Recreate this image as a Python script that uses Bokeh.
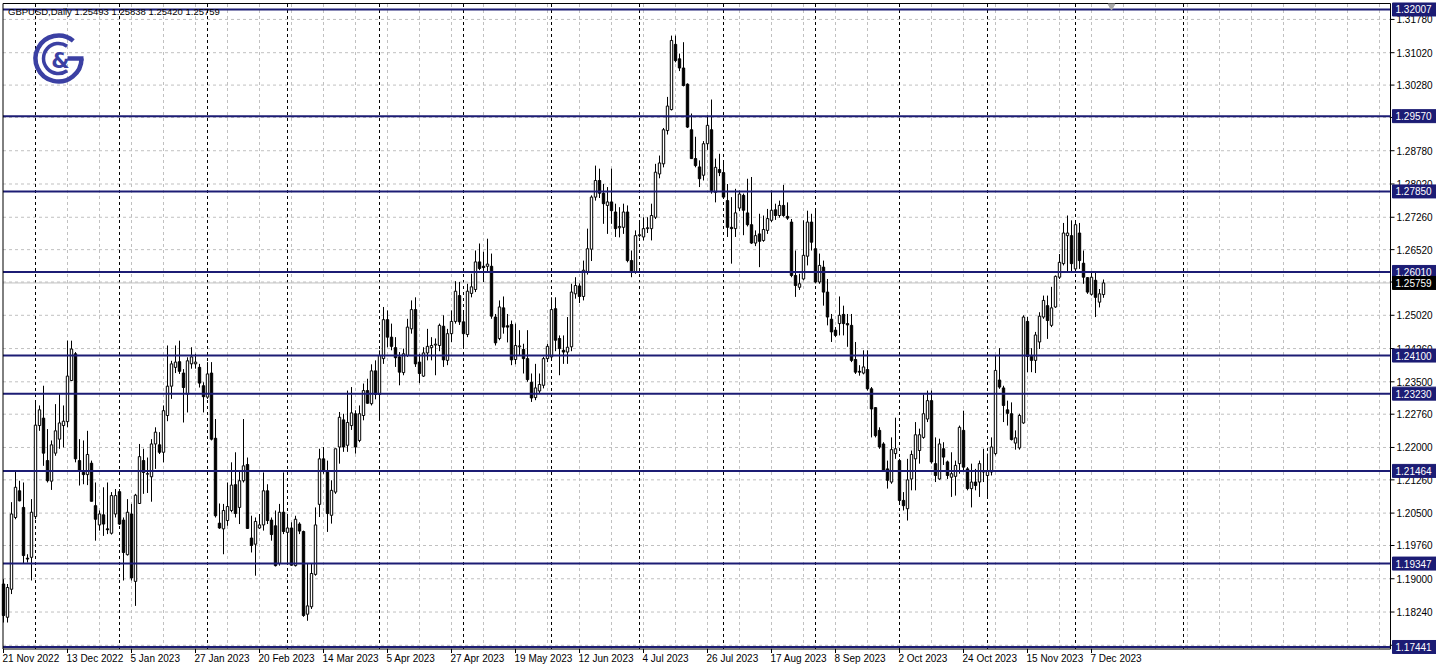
import math
from bokeh.plotting import figure
from bokeh.models import ColumnDataSource, Range1d
from bokeh.embed import file_html
from bokeh.resources import INLINE
from bokeh.core.properties import value

# ---------------- data ----------------
symbol = "GBPUSD,Daily"

opens = [
    1.1888, 1.1812, 1.1876, 1.2040, 1.2101, 1.2063, 1.1947, 1.1949, 1.2042, 1.2250,
    1.2267, 1.2170, 1.2123, 1.2187, 1.2219, 1.2250, 1.2259, 1.2353, 1.2414, 1.2170,
    1.2143, 1.2138, 1.2164, 1.2067, 1.2023, 1.2046, 1.2014, 1.2004, 1.2048, 1.2099,
    1.2034, 1.1955, 1.2048, 1.1894, 1.2072, 1.2170, 1.2139, 1.2133, 1.2208, 1.2206,
    1.2189, 1.2273, 1.2340, 1.2383, 1.2396, 1.2370, 1.2322, 1.2391, 1.2391, 1.2383,
    1.2341, 1.2315, 1.2370, 1.2221, 1.2027, 1.2014, 1.2033, 1.2056, 1.2115, 1.2063,
    1.2124, 1.2161, 1.1993, 1.1979, 1.2016, 1.2023, 1.2101, 1.2034, 1.2021, 1.1935,
    1.2052, 1.2006, 1.2016, 1.1930, 1.2025, 1.2008, 1.1819, 1.1836, 1.1910, 1.2070,
    1.2174, 1.2147, 1.2045, 1.2098, 1.2201, 1.2263, 1.2205, 1.2250, 1.2277, 1.2216,
    1.2273, 1.2330, 1.2300, 1.2375, 1.2321, 1.2403, 1.2492, 1.2452, 1.2428, 1.2407,
    1.2371, 1.2410, 1.2471, 1.2515, 1.2395, 1.2363, 1.2416, 1.2428, 1.2434, 1.2433,
    1.2477, 1.2399, 1.2460, 1.2488, 1.2547, 1.2487, 1.2458, 1.2552, 1.2561, 1.2624,
    1.2614, 1.2614, 1.2614, 1.2498, 1.2449, 1.2519, 1.2478, 1.2481, 1.2401, 1.2430,
    1.2424, 1.2403, 1.2349, 1.2314, 1.2329, 1.2342, 1.2403, 1.2407, 1.2517, 1.2449,
    1.2422, 1.2418, 1.2430, 1.2551, 1.2569, 1.2545, 1.2600, 1.2653, 1.2772, 1.2810,
    1.2781, 1.2753, 1.2761, 1.2738, 1.2702, 1.2703, 1.2738, 1.2627, 1.2601, 1.2684,
    1.2681, 1.2700, 1.2700, 1.2726, 1.2825, 1.2848, 1.2924, 1.2972, 1.3121, 1.3088,
    1.3067, 1.3030, 1.2926, 1.2860, 1.2841, 1.2822, 1.2894, 1.2926, 1.2783, 1.2835,
    1.2828, 1.2764, 1.2703, 1.2700, 1.2747, 1.2776, 1.2736, 1.2709, 1.2667, 1.2688,
    1.2673, 1.2696, 1.2719, 1.2743, 1.2730, 1.2753, 1.2728, 1.2715, 1.2593, 1.2566,
    1.2585, 1.2637, 1.2715, 1.2654, 1.2578, 1.2612, 1.2555, 1.2493, 1.2468, 1.2483,
    1.2504, 1.2483, 1.2479, 1.2401, 1.2374, 1.2370, 1.2378, 1.2334, 1.2291, 1.2239,
    1.2208, 1.2151, 1.2121, 1.2186, 1.2170, 1.2079, 1.2060, 1.2128, 1.2174, 1.2193,
    1.2223, 1.2265, 1.2307, 1.2163, 1.2128, 1.2197, 1.2167, 1.2132, 1.2134, 1.2163,
    1.2239, 1.2151, 1.2106, 1.2121, 1.2121, 1.2147, 1.2136, 1.2144, 1.2186, 1.2354,
    1.2336, 1.2286, 1.2277, 1.2210, 1.2199, 1.2256, 1.2488, 1.2408, 1.2399, 1.2441,
    1.2498, 1.2524, 1.2479, 1.2521, 1.2589, 1.2620, 1.2684, 1.2684, 1.2608, 1.2690,
    1.2621, 1.2588, 1.2550, 1.2582, 1.2532, 1.25493,
]
highs = [
    1.1899, 1.1888, 1.2075, 1.2147, 1.2124, 1.2120, 1.1956, 1.2082, 1.2307, 1.2296,
    1.2341, 1.2242, 1.2216, 1.2299, 1.2322, 1.2296, 1.2444, 1.2444, 1.2418, 1.2219,
    1.2216, 1.2238, 1.2170, 1.2120, 1.2056, 1.2109, 1.2120, 1.2098, 1.2105, 1.2105,
    1.2040, 1.2082, 1.2071, 1.2094, 1.2208, 1.2197, 1.2177, 1.2219, 1.2246, 1.2235,
    1.2296, 1.2433, 1.2398, 1.2433, 1.2444, 1.2379, 1.2406, 1.2429, 1.2414, 1.2391,
    1.2349, 1.2395, 1.2395, 1.2265, 1.2072, 1.2071, 1.2120, 1.2166, 1.2189, 1.2147,
    1.2265, 1.2177, 1.2044, 1.2040, 1.2048, 1.2143, 1.2116, 1.2040, 1.2056, 1.2071,
    1.2143, 1.2044, 1.2029, 1.2044, 1.2029, 1.2010, 1.1934, 1.1934, 1.2063, 1.2197,
    1.2201, 1.2170, 1.2125, 1.2197, 1.2281, 1.2277, 1.2330, 1.2338, 1.2285, 1.2296,
    1.2346, 1.2357, 1.2390, 1.2399, 1.2422, 1.2521, 1.2513, 1.2483, 1.2452, 1.2418,
    1.2426, 1.2494, 1.2536, 1.2543, 1.2414, 1.2429, 1.2471, 1.2452, 1.2449, 1.2483,
    1.2502, 1.2471, 1.2513, 1.2580, 1.2578, 1.2513, 1.2574, 1.2597, 1.2650, 1.2666,
    1.2647, 1.2677, 1.2643, 1.2505, 1.2536, 1.2545, 1.2505, 1.2490, 1.2483, 1.2468,
    1.2437, 1.2468, 1.2369, 1.2391, 1.2369, 1.2407, 1.2437, 1.2543, 1.2543, 1.2456,
    1.2456, 1.2498, 1.2574, 1.2589, 1.2575, 1.2627, 1.2700, 1.2776, 1.2844, 1.2837,
    1.2802, 1.2795, 1.2837, 1.2757, 1.2749, 1.2757, 1.2753, 1.2650, 1.2696, 1.2715,
    1.2726, 1.2726, 1.2757, 1.2848, 1.2867, 1.2930, 1.3001, 1.3141, 1.3141, 1.3100,
    1.3126, 1.3032, 1.2963, 1.2910, 1.2856, 1.2900, 1.2959, 1.2995, 1.2860, 1.2871,
    1.2856, 1.2802, 1.2772, 1.2791, 1.2787, 1.2780, 1.2814, 1.2818, 1.2696, 1.2734,
    1.2730, 1.2745, 1.2787, 1.2757, 1.2764, 1.2800, 1.2760, 1.2722, 1.2650, 1.2597,
    1.2719, 1.2741, 1.2734, 1.2741, 1.2643, 1.2627, 1.2585, 1.2505, 1.2475, 1.2545,
    1.2524, 1.2505, 1.2505, 1.2441, 1.2388, 1.2422, 1.2422, 1.2338, 1.2292, 1.2246,
    1.2212, 1.2170, 1.2223, 1.2268, 1.2174, 1.2098, 1.2174, 1.2193, 1.2258, 1.2243,
    1.2321, 1.2330, 1.2330, 1.2223, 1.2220, 1.2212, 1.2170, 1.2189, 1.2170, 1.2250,
    1.2284, 1.2155, 1.2163, 1.2151, 1.2170, 1.2197, 1.2186, 1.2223, 1.2410, 1.2427,
    1.2341, 1.2307, 1.2303, 1.2239, 1.2277, 1.2502, 1.2498, 1.2427, 1.2464, 1.2509,
    1.2547, 1.2547, 1.2567, 1.2593, 1.2642, 1.2713, 1.2730, 1.2719, 1.2719, 1.2713,
    1.2650, 1.2589, 1.2601, 1.2601, 1.2562, 1.25838,
]
lows = [
    1.1800, 1.1800, 1.1865, 1.2036, 1.2077, 1.1934, 1.1937, 1.1896, 1.2036, 1.2238,
    1.2158, 1.2120, 1.2103, 1.2181, 1.2197, 1.2200, 1.2246, 1.2353, 1.2166, 1.2113,
    1.2116, 1.2114, 1.2077, 1.1987, 1.2010, 1.1998, 1.2002, 1.2001, 1.2040, 1.2023,
    1.1896, 1.1953, 1.1896, 1.1838, 1.2071, 1.2094, 1.2096, 1.2076, 1.2151, 1.2185,
    1.2166, 1.2260, 1.2311, 1.2370, 1.2368, 1.2257, 1.2280, 1.2380, 1.2380, 1.2337,
    1.2280, 1.2311, 1.2216, 1.2040, 1.2014, 1.1956, 1.2021, 1.2052, 1.2040, 1.2025,
    1.2120, 1.2014, 1.1960, 1.1907, 1.2014, 1.2010, 1.2025, 1.1987, 1.1928, 1.1930,
    1.2002, 1.1934, 1.1930, 1.1928, 1.2002, 1.1813, 1.1804, 1.1831, 1.1907, 1.2041,
    1.2140, 1.2007, 1.2026, 1.2094, 1.2163, 1.2190, 1.2190, 1.2240, 1.2186, 1.2212,
    1.2262, 1.2300, 1.2296, 1.2310, 1.2262, 1.2391, 1.2429, 1.2422, 1.2384, 1.2342,
    1.2365, 1.2407, 1.2460, 1.2384, 1.2347, 1.2361, 1.2399, 1.2399, 1.2365, 1.2420,
    1.2384, 1.2388, 1.2441, 1.2483, 1.2480, 1.2429, 1.2452, 1.2543, 1.2555, 1.2605,
    1.2578, 1.2601, 1.2494, 1.2433, 1.2445, 1.2460, 1.2440, 1.2388, 1.2390, 1.2410,
    1.2369, 1.2350, 1.2304, 1.2308, 1.2323, 1.2335, 1.2395, 1.2400, 1.2420, 1.2365,
    1.2391, 1.2391, 1.2420, 1.2540, 1.2530, 1.2536, 1.2595, 1.2626, 1.2764, 1.2770,
    1.2711, 1.2688, 1.2711, 1.2681, 1.2680, 1.2688, 1.2623, 1.2589, 1.2597, 1.2680,
    1.2673, 1.2690, 1.2673, 1.2722, 1.2815, 1.2840, 1.2915, 1.2970, 1.3080, 1.3060,
    1.3025, 1.2930, 1.2860, 1.2840, 1.2795, 1.2810, 1.2880, 1.2780, 1.2760, 1.2820,
    1.2770, 1.2681, 1.2620, 1.2681, 1.2740, 1.2685, 1.2705, 1.2665, 1.2660, 1.2612,
    1.2670, 1.2688, 1.2715, 1.2720, 1.2725, 1.2727, 1.2720, 1.2589, 1.2544, 1.2560,
    1.2582, 1.2616, 1.2650, 1.2575, 1.2574, 1.2524, 1.2479, 1.2441, 1.2452, 1.2456,
    1.2456, 1.2430, 1.2395, 1.2368, 1.2364, 1.2367, 1.2330, 1.2223, 1.2223, 1.2197,
    1.2144, 1.2106, 1.2117, 1.2174, 1.2071, 1.2056, 1.2033, 1.2102, 1.2102, 1.2163,
    1.2220, 1.2258, 1.2163, 1.2121, 1.2126, 1.2160, 1.2128, 1.2087, 1.2090, 1.2140,
    1.2144, 1.2102, 1.2063, 1.2102, 1.2087, 1.2121, 1.2087, 1.2136, 1.2182, 1.2334,
    1.2258, 1.2250, 1.2216, 1.2195, 1.2195, 1.2254, 1.2372, 1.2372, 1.2370, 1.2425,
    1.2494, 1.2448, 1.2475, 1.2519, 1.2585, 1.2616, 1.2601, 1.2601, 1.2601, 1.2608,
    1.2574, 1.2551, 1.2547, 1.2498, 1.2520, 1.25420,
]
closes = [
    1.1816, 1.1880, 1.2048, 1.2109, 1.2078, 1.1953, 1.1945, 1.2052, 1.2251, 1.2286,
    1.2187, 1.2124, 1.2206, 1.2238, 1.2256, 1.2260, 1.2363, 1.2425, 1.2174, 1.2147,
    1.2138, 1.2184, 1.2077, 1.2036, 1.2048, 1.2025, 1.2012, 1.2090, 1.2090, 1.2025,
    1.1960, 1.2052, 1.1902, 1.2091, 1.2179, 1.2143, 1.2140, 1.2208, 1.2235, 1.2189,
    1.2284, 1.2340, 1.2391, 1.2395, 1.2374, 1.2337, 1.2398, 1.2407, 1.2395, 1.2347,
    1.2316, 1.2368, 1.2219, 1.2044, 1.2016, 1.2056, 1.2065, 1.2114, 1.2049, 1.2124,
    1.2158, 1.2015, 1.1976, 1.2031, 1.2023, 1.2101, 1.2033, 1.2001, 1.1930, 1.2052,
    1.2008, 1.2016, 1.1931, 1.2036, 1.2009, 1.1816, 1.1838, 1.1912, 1.2023, 1.2174,
    1.2147, 1.2049, 1.2102, 1.2197, 1.2269, 1.2201, 1.2257, 1.2279, 1.2201, 1.2277,
    1.2330, 1.2301, 1.2375, 1.2321, 1.2410, 1.2492, 1.2452, 1.2431, 1.2405, 1.2372,
    1.2414, 1.2475, 1.2515, 1.2391, 1.2369, 1.2416, 1.2431, 1.2433, 1.2436, 1.2479,
    1.2400, 1.2460, 1.2488, 1.2557, 1.2487, 1.2460, 1.2557, 1.2567, 1.2624, 1.2609,
    1.2611, 1.2619, 1.2500, 1.2439, 1.2521, 1.2475, 1.2475, 1.2400, 1.2433, 1.2432,
    1.2403, 1.2355, 1.2313, 1.2336, 1.2344, 1.2403, 1.2431, 1.2515, 1.2445, 1.2426,
    1.2418, 1.2429, 1.2555, 1.2570, 1.2545, 1.2605, 1.2654, 1.2772, 1.2810, 1.2781,
    1.2757, 1.2761, 1.2741, 1.2700, 1.2705, 1.2738, 1.2627, 1.2601, 1.2684, 1.2686,
    1.2700, 1.2702, 1.2730, 1.2829, 1.2850, 1.2926, 1.2980, 1.3130, 1.3084, 1.3067,
    1.3027, 1.2932, 1.2860, 1.2844, 1.2814, 1.2894, 1.2936, 1.2787, 1.2840, 1.2828,
    1.2772, 1.2703, 1.2700, 1.2736, 1.2779, 1.2742, 1.2709, 1.2667, 1.2684, 1.2671,
    1.2698, 1.2723, 1.2742, 1.2730, 1.2753, 1.2730, 1.2724, 1.2593, 1.2570, 1.2574,
    1.2639, 1.2715, 1.2669, 1.2578, 1.2616, 1.2555, 1.2498, 1.2464, 1.2456, 1.2502,
    1.2483, 1.2480, 1.2399, 1.2372, 1.2372, 1.2384, 1.2334, 1.2288, 1.2227, 1.2201,
    1.2147, 1.2125, 1.2195, 1.2197, 1.2079, 1.2067, 1.2126, 1.2184, 1.2229, 1.2229,
    1.2277, 1.2307, 1.2167, 1.2136, 1.2208, 1.2178, 1.2136, 1.2140, 1.2159, 1.2246,
    1.2155, 1.2106, 1.2121, 1.2113, 1.2163, 1.2144, 1.2147, 1.2201, 1.2376, 1.2338,
    1.2296, 1.2278, 1.2218, 1.2222, 1.2273, 1.2498, 1.2408, 1.2399, 1.2457, 1.2500,
    1.2536, 1.2490, 1.2519, 1.2591, 1.2623, 1.2690, 1.2690, 1.2620, 1.2709, 1.2627,
    1.2589, 1.2555, 1.2589, 1.2543, 1.2551, 1.25759,
]

date_labels = ["21 Nov 2022", "13 Dec 2022", "5 Jan 2023", "27 Jan 2023", "20 Feb 2023",
               "14 Mar 2023", "5 Apr 2023", "27 Apr 2023", "19 May 2023", "12 Jun 2023",
               "4 Jul 2023", "26 Jul 2023", "17 Aug 2023", "8 Sep 2023", "2 Oct 2023",
               "24 Oct 2023", "15 Nov 2023", "7 Dec 2023"]
bars_per_label = 16
month_start_bars = [8, 29, 51, 71, 94, 115, 137, 159, 180, 203, 224, 246, 268, 295]
levels = [1.32007, 1.29570, 1.27850, 1.26010, 1.24100, 1.23230, 1.21464, 1.19347, 1.17441]
price_ticks = [1.31780, 1.31020, 1.30280, 1.29540, 1.28780, 1.28020, 1.27260, 1.26520,
               1.25780, 1.25020, 1.24260, 1.23500, 1.22760, 1.22000, 1.21260, 1.20500,
               1.19760, 1.19000, 1.18240, 1.17480]

# ---------------- layout constants ----------------
NAVY = "#1c1c74"
LOGO = "#3b40a3"
GRID = "#c0c0c0"
FONT = "Liberation Sans"
W, H = 1436, 667          # whole figure
PL, PT = 2.5, 3.0         # chart box offset from the figure's left / top edge (px)
CW, CH = 1387.5, 645.5    # chart box size (px); price scale to the right, time scale below
X0, X1 = -0.125, 346.75   # chart box in bar units
Y0, Y1 = 1.17395, 1.32144 # chart box in price units
sx = CW / (X1 - X0)       # px per bar
sy = CH / (Y1 - Y0)       # px per price unit

def dx(px):
    return px / sx

def dy(px):
    return px / sy

n = min(len(opens), len(highs), len(lows), len(closes))

p = figure(width=W, height=H,
           x_range=Range1d(X0 - dx(PL), X0 + dx(W - PL)),
           y_range=Range1d(Y1 - dy(H - PT), Y1 + dy(PT)),
           output_backend="svg", toolbar_location=None, x_axis_type=None, y_axis_type=None,
           min_border=0)
p.outline_line_color = None
p.background_fill_color = "white"
p.border_fill_color = "white"
p.grid.visible = False

# ---- grid ----
vgrid = list(range(8, int(X1) + 1, 8))
p.segment(x0=vgrid, y0=[Y0] * len(vgrid), x1=vgrid, y1=[Y1] * len(vgrid),
          line_color=GRID, line_dash="3 3", line_width=1)
p.segment(x0=[X0] * len(price_ticks), y0=price_ticks, x1=[X1] * len(price_ticks), y1=price_ticks,
          line_color=GRID, line_dash="3 3", line_width=1)

# ---- month separators ----
p.segment(x0=month_start_bars, y0=[Y0] * len(month_start_bars), x1=month_start_bars,
          y1=[Y1] * len(month_start_bars), line_color="black", line_dash="3 3", line_width=1)

# ---- current price line ----
p.segment(x0=[X0], y0=[closes[n - 1]], x1=[X1], y1=[closes[n - 1]], line_color=GRID, line_width=1)

# ---- candles ----
up = dict(x=[], h=[], l=[], top=[], bot=[])
dn = dict(x=[], h=[], l=[], top=[], bot=[])
for i in range(n):
    o, h, l, c = opens[i], highs[i], lows[i], closes[i]
    d = up if c >= o else dn
    d["x"].append(i); d["h"].append(h); d["l"].append(l)
    d["top"].append(max(o, c)); d["bot"].append(min(o, c))
src_up = ColumnDataSource(up)
src_dn = ColumnDataSource(dn)
for s in (src_up, src_dn):
    p.segment(x0="x", y0="l", x1="x", y1="h", source=s, line_color="black", line_width=1)
p.vbar(x="x", width=0.6, top="top", bottom="bot", source=src_up,
       fill_color="white", line_color="black", line_width=1)
p.vbar(x="x", width=0.6, top="top", bottom="bot", source=src_dn,
       fill_color="black", line_color="black", line_width=1)

# ---- horizontal levels ----
p.segment(x0=[X0] * len(levels), y0=levels, x1=[X1] * len(levels), y1=levels,
          line_color=NAVY, line_width=2)

# ---- chart frame ----
p.quad(left=[X0], right=[X1], bottom=[Y0], top=[Y1], fill_color=None,
       line_color="black", line_width=1)

# ---- price scale ----
p.segment(x0=[X1] * len(price_ticks), y0=price_ticks, x1=[X1 + dx(4)] * len(price_ticks),
          y1=price_ticks, line_color="black", line_width=1)
p.text(x=[X1] * len(price_ticks), y=price_ticks, text=["%.5f" % t for t in price_ticks],
       x_offset=6, text_font=value(FONT), text_font_size="10px", text_color="black",
       text_align="left", text_baseline="middle")

# level tags
p.rect(x=[X1 + dx(24)] * len(levels), y=levels, width=44, height=13, width_units="screen",
       height_units="screen", fill_color=NAVY, line_color=NAVY)
p.text(x=[X1] * len(levels), y=levels, text=["%.5f" % lv for lv in levels], x_offset=5,
       text_font=value(FONT), text_font_size="10px", text_color="white",
       text_align="left", text_baseline="middle")
# current price tag
p.rect(x=[X1 + dx(24)], y=[closes[n - 1]], width=44, height=13, width_units="screen",
       height_units="screen", fill_color="black", line_color="black")
p.text(x=[X1], y=[closes[n - 1]], text=["%.5f" % closes[n - 1]], x_offset=5,
       text_font=value(FONT), text_font_size="10px", text_color="white",
       text_align="left", text_baseline="middle")

# ---- time scale ----
label_bars = [i * bars_per_label for i in range(len(date_labels))]
p.segment(x0=label_bars, y0=[Y0] * len(label_bars), x1=label_bars,
          y1=[Y0 - dy(4)] * len(label_bars), line_color="black", line_width=1)
p.text(x=label_bars, y=[Y0] * len(label_bars), text=date_labels, x_offset=-1, y_offset=4,
       text_font=value(FONT), text_font_size="10px", text_color="black",
       text_align="left", text_baseline="top")

# ---- header ----
header = "%s  %.5f %.5f %.5f %.5f" % (symbol, opens[n - 1], highs[n - 1], lows[n - 1], closes[n - 1])
p.text(x=[X0], y=[Y1], text=[header], x_offset=5, y_offset=8, text_font=value(FONT),
       text_font_size="9.5px", text_color="black", text_align="left", text_baseline="middle")

# ---- logo (decoration) ----
cx, cy = X0 + dx(55.5), Y1 - dy(55)
p.arc(x=[cx], y=[cy], radius=23, radius_units="screen", start_angle=math.radians(50),
      end_angle=math.radians(360), direction="anticlock", line_color=LOGO, line_width=4.5)
p.segment(x0=[cx + dx(9)], y0=[cy], x1=[cx + dx(25)], y1=[cy], line_color=LOGO, line_width=4.5)
p.arc(x=[cx], y=[cy], radius=15, radius_units="screen", start_angle=math.radians(55),
      end_angle=math.radians(305), direction="anticlock", line_color=LOGO, line_width=3.5)
p.text(x=[cx], y=[cy], text=["&"], text_font=value("DejaVu Sans"), text_font_size="21px",
       text_font_style="bold", text_color=LOGO, text_align="center", text_baseline="middle",
       x_offset=2, y_offset=2)

# ---- chart-shift marker ----
p.scatter(x=[X0 + dx(1108.5)], y=[Y1 - dy(2.5)], marker="inverted_triangle", size=7,
          fill_color="#a8a8a8", line_color="#a8a8a8")

open("out.html", "w").write(file_html(p, INLINE))
